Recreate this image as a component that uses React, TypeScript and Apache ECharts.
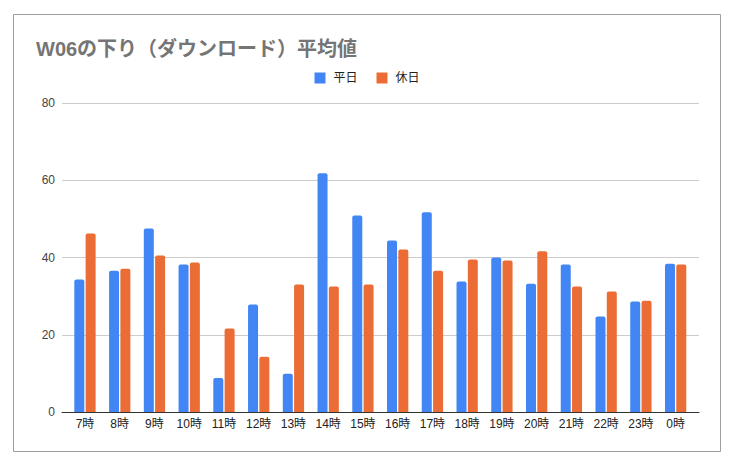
import React, { useEffect, useRef } from "react";
import * as echarts from "echarts";

const title = "W06の下り（ダウンロード）平均値";
const categories = ["7時", "8時", "9時", "10時", "11時", "12時", "13時", "14時", "15時", "16時", "17時", "18時", "19時", "20時", "21時", "22時", "23時", "0時"];
const weekday = [34.3, 36.6, 47.5, 38.2, 8.8, 27.8, 9.9, 61.8, 50.9, 44.4, 51.7, 33.8, 40.0, 33.2, 38.2, 24.7, 28.6, 38.4];
const holiday = [46.2, 37.1, 40.5, 38.7, 21.6, 14.3, 33.0, 32.5, 33.0, 42.1, 36.6, 39.5, 39.2, 41.6, 32.5, 31.2, 28.8, 38.2];
const seriesNames = ["平日", "休日"];
const yTicks = { min: 0, max: 80, interval: 20 };

const FONT = "'Liberation Sans', Arial, 'Noto Sans CJK JP', sans-serif";

export default function App() {
  const ref = useRef<HTMLDivElement>(null);
  useEffect(() => {
    if (!ref.current) return;
    const chart = echarts.init(ref.current, undefined, { renderer: "svg" });
    chart.setOption({
      animation: false,
      backgroundColor: "#ffffff",
      textStyle: { fontFamily: FONT },
      title: {
        text: title,
        left: 31,
        top: 34,
        textStyle: { fontSize: 20, fontWeight: "bold", color: "#757575", fontFamily: FONT },
      },
      legend: {
        top: 67,
        left: "center",
        itemWidth: 11,
        itemHeight: 11,
        itemGap: 19,
        icon: "rect",
        textStyle: { fontSize: 12, color: "#222", fontFamily: FONT, padding: [0, 0, 0, 3] },
        data: seriesNames,
      },
      graphic: [
        {
          type: "rect",
          shape: { x: 13.5, y: 14.5, width: 707, height: 437 },
          style: { fill: "none", stroke: "#9e9e9e", lineWidth: 1 },
          silent: true,
        },
      ],
      grid: [
        { left: 62, right: 35, top: 103, bottom: 57 },
        { left: 67.6, right: 41, top: 103, bottom: 57 },
      ],
      xAxis: [
        {
          type: "category",
          gridIndex: 0,
          data: categories,
          axisLine: { show: true, lineStyle: { color: "#333", width: 1 } },
          axisTick: { show: false },
          axisLabel: { show: false },
          splitLine: { show: false },
        },
        {
          type: "category",
          gridIndex: 1,
          data: categories,
          axisLine: { show: false },
          axisTick: { show: false },
          axisLabel: { color: "#222", fontSize: 12, margin: 6, fontFamily: FONT, interval: 0 },
        },
      ],
      yAxis: [
        {
          type: "value",
          gridIndex: 0,
          min: yTicks.min,
          max: yTicks.max,
          interval: yTicks.interval,
          axisLine: { show: false },
          axisTick: { show: false },
          axisLabel: { color: "#444", fontSize: 12, margin: 7, fontFamily: FONT },
          splitLine: { lineStyle: { color: "#cccccc", width: 1 } },
        },
        {
          type: "value",
          gridIndex: 1,
          min: yTicks.min,
          max: yTicks.max,
          interval: yTicks.interval,
          axisLine: { show: false },
          axisTick: { show: false },
          axisLabel: { show: false },
          splitLine: { show: false },
        },
      ],
      series: [
        {
          name: seriesNames[0],
          type: "bar",
          xAxisIndex: 1,
          yAxisIndex: 1,
          data: weekday,
          barWidth: 10,
          barGap: "13%",
          itemStyle: { color: "#4285F4", borderRadius: [2, 2, 0, 0] },
        },
        {
          name: seriesNames[1],
          type: "bar",
          xAxisIndex: 1,
          yAxisIndex: 1,
          data: holiday,
          barWidth: 10,
          barGap: "13%",
          itemStyle: { color: "#EB6C35", borderRadius: [2, 2, 0, 0] },
        },
      ],
    });
    return () => chart.dispose();
  }, []);
  return (
    <div
      ref={ref}
      style={{ position: "absolute", left: 0, top: 0, width: 734, height: 469 }}
    />
  );
}
